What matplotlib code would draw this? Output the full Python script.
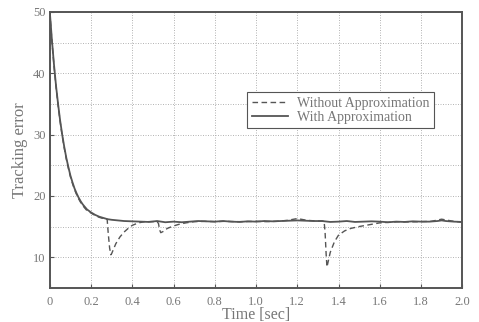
import matplotlib
matplotlib.use('Agg')
import matplotlib.pyplot as plt
import numpy as np

# --- data ---
t_with = [0.0, 0.01, 0.02, 0.03, 0.04, 0.05, 0.06, 0.07, 0.08, 0.09, 0.10,
          0.11, 0.12, 0.13, 0.14, 0.15, 0.16, 0.18, 0.20, 0.22, 0.24, 0.26,
          0.28, 0.30, 0.33, 0.36, 0.40, 0.44, 0.48, 0.52, 0.56, 0.60, 0.64,
          0.68, 0.72, 0.76, 0.80, 0.84, 0.88, 0.92, 0.96, 1.00, 1.04, 1.08,
          1.12, 1.16, 1.20, 1.24, 1.28, 1.32, 1.36, 1.40, 1.44, 1.48, 1.52,
          1.56, 1.60, 1.64, 1.68, 1.72, 1.76, 1.80, 1.84, 1.88, 1.90, 1.92,
          1.96, 2.00]
err_with = [50.0, 45.5, 41.5, 38.0, 35.0, 32.3, 30.0, 28.0, 26.2, 24.7, 23.3,
            22.2, 21.2, 20.4, 19.7, 19.1, 18.6, 17.8, 17.3, 16.9, 16.6, 16.4,
            16.2, 16.1, 16.0, 15.9, 15.85, 15.8, 15.75, 15.9, 15.7, 15.8, 15.7,
            15.8, 15.9, 15.85, 15.8, 15.9, 15.8, 15.75, 15.85, 15.8, 15.9, 15.85,
            15.9, 15.95, 16.0, 15.95, 15.9, 15.9, 15.75, 15.8, 15.9, 15.75, 15.8,
            15.85, 15.8, 15.7, 15.8, 15.75, 15.85, 15.8, 15.8, 15.9, 16.0, 15.9,
            15.8, 15.75]

t_without = [0.0, 0.01, 0.02, 0.03, 0.04, 0.05, 0.06, 0.07, 0.08, 0.09, 0.10,
             0.11, 0.12, 0.13, 0.14, 0.15, 0.16, 0.18, 0.20, 0.22, 0.24, 0.26,
             0.278, 0.283, 0.29, 0.296, 0.30, 0.31, 0.32, 0.34, 0.36, 0.38,
             0.40, 0.43, 0.46, 0.50, 0.52, 0.527, 0.532, 0.538, 0.55, 0.57,
             0.60, 0.63, 0.66, 0.70, 0.75, 0.80, 0.85, 0.90, 0.95, 1.00, 1.05,
             1.10, 1.15, 1.20, 1.25, 1.30, 1.33, 1.335, 1.340, 1.344, 1.35,
             1.36, 1.38, 1.40, 1.43, 1.46, 1.50, 1.55, 1.60, 1.65, 1.70, 1.75,
             1.80, 1.85, 1.90, 1.95, 2.00]
err_without = [50.0, 45.3, 41.3, 37.8, 34.8, 32.1, 29.8, 27.8, 26.0, 24.5, 23.1,
               22.0, 21.0, 20.2, 19.5, 18.9, 18.4, 17.6, 17.2, 16.8, 16.5, 16.3,
               16.2, 14.0, 11.5, 10.4, 10.6, 11.4, 12.2, 13.3, 14.1, 14.7,
               15.2, 15.6, 15.8, 15.8, 15.8, 15.5, 14.5, 14.0, 14.2, 14.7,
               15.1, 15.4, 15.6, 15.8, 15.85, 15.8, 15.85, 15.8, 15.8, 15.85, 15.8,
               15.85, 16.0, 16.3, 16.0, 15.9, 15.9, 14.0, 10.5, 8.4, 9.3,
               10.8, 12.5, 13.6, 14.3, 14.7, 15.0, 15.3, 15.6, 15.7, 15.8, 15.75,
               15.8, 15.85, 16.2, 15.9, 15.7]

x_ticks = [0.0, 0.2, 0.4, 0.6, 0.8, 1.0, 1.2, 1.4, 1.6, 1.8, 2.0]
x_labels = ['0', '0.2', '0.4', '0.6', '0.8', '1.0', '1.2', '1.4', '1.6', '1.8', '2.0']
y_ticks = [10, 20, 30, 40, 50]

plt.rcParams['font.family'] = ['Liberation Serif', 'DejaVu Serif']
text_color = '#777777'
line_color = '#555555'

fig = plt.figure(figsize=(4.79, 3.22), dpi=100)
ax = fig.add_axes([0.104, 0.106, 0.861, 0.857])

ax.plot(t_without, err_without, linestyle=(0, (4, 2.5)), color=line_color,
        linewidth=1.0, label='Without Approximation')
ax.plot(t_with, err_with, linestyle='-', color=line_color,
        linewidth=1.3, label='With Approximation')

ax.set_xlim(0, 2.0)
ax.set_ylim(5, 50)
ax.set_xticks(x_ticks)
ax.set_xticklabels(x_labels)
ax.set_yticks(y_ticks)
ax.set_yticks(np.arange(5, 50, 5), minor=True)
ax.tick_params(which='both', direction='in', length=3, color=line_color,
               labelsize=9, labelcolor=text_color)
ax.tick_params(axis='x', pad=6)
ax.tick_params(axis='y', pad=3)
ax.tick_params(which='minor', length=0)
ax.grid(True, which='both', linestyle=(0, (1.2, 1.8)), color='#aaaaaa', linewidth=0.6)

for s in ax.spines.values():
    s.set_color(line_color)
    s.set_linewidth(1.4)

ax.set_xlabel('Time [sec]', fontsize=11.5, color=text_color, labelpad=-1)
ax.set_ylabel('Tracking error', fontsize=12, color=text_color, labelpad=4)

leg = ax.legend(loc='upper left', bbox_to_anchor=(0.462, 0.735), fontsize=10,
                frameon=True, fancybox=False, framealpha=1, edgecolor=line_color,
                handlelength=2.6, borderpad=0.35, labelspacing=0.05, handletextpad=0.6)
leg.get_frame().set_linewidth(0.8)
for txt in leg.get_texts():
    txt.set_color(text_color)

fig.savefig('out.png', dpi=100)
